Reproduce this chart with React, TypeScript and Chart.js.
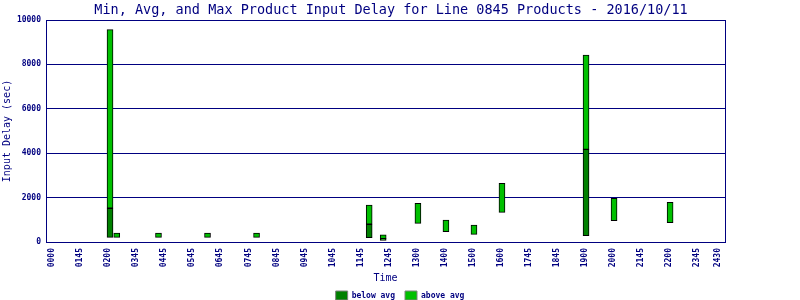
import React, { useEffect, useRef } from "react";
import { Chart, registerables } from "chart.js";

Chart.register(...registerables);

const chartTitle = "Min, Avg, and Max Product Input Delay for Line 0845 Products - 2016/10/11";
const xTickLabels = ["0000", "0145", "0200", "0345", "0445", "0545", "0645", "0745", "0845", "0945", "1045", "1145", "1245", "1300", "1400", "1500", "1600", "1745", "1845", "1900", "2000", "2145", "2200", "2345", "2430"];
const xTickValues = [0, 1, 2, 3, 4, 5, 6, 7, 8, 9, 10, 11, 12, 13, 14, 15, 16, 17, 18, 19, 20, 21, 22, 23, 23.77];
const yTickValues = [0, 2000, 4000, 6000, 8000, 10000];

const times = [2.06, 2.3, 3.79, 5.54, 7.29, 11.31, 11.81, 13.05, 14.05, 15.05, 16.05, 19.05, 20.05, 22.05];
const minDelay = [210, 210, 210, 210, 210, 200, 70, 840, 465, 345, 1335, 285, 960, 870];
const avgDelay = [1520, 210, 210, 210, 210, 800, 150, 840, 465, 345, 1335, 4170, 960, 870];
const maxDelay = [9570, 400, 400, 400, 400, 1665, 320, 1740, 990, 765, 2640, 8415, 1965, 1785];

const NAVY = "#000080";
const MONO = '"DejaVu Sans Mono", "Liberation Mono", monospace';
const tickFont = { family: MONO, size: 8, weight: "bold" as const };
const axisTitleFont = { family: MONO, size: 10 };

const titlePlugin = {
  id: "customTitle",
  afterDraw(chart: any) {
    const ctx = chart.ctx;
    ctx.save();
    ctx.font = `13.5px ${MONO}`;
    ctx.fillStyle = NAVY;
    ctx.textAlign = "center";
    ctx.textBaseline = "alphabetic";
    ctx.fillText(chartTitle, 391, 13.5);
    ctx.restore();
  },
};

export default function App() {
  const ref = useRef<HTMLCanvasElement>(null);
  useEffect(() => {
    document.body.style.margin = "0";
    const below = times.map((t, i) => ({ x: t, y: [minDelay[i], avgDelay[i]] }));
    const above = times.map((t, i) => ({ x: t, y: [avgDelay[i], maxDelay[i]] }));
    const chart = new Chart(ref.current as HTMLCanvasElement, {
      type: "bar",
      data: {
        datasets: [
          {
            label: "below avg",
            data: below as any,
            backgroundColor: "#008000",
            borderColor: "#000000",
            borderWidth: 1,
            borderSkipped: false,
            barThickness: 6,
            grouped: false,
            xAxisID: "x",
            yAxisID: "y",
          } as any,
          {
            label: "above avg",
            data: above as any,
            backgroundColor: "#00C000",
            borderColor: "#000000",
            borderWidth: 1,
            borderSkipped: false,
            barThickness: 6,
            grouped: false,
            xAxisID: "x",
            yAxisID: "y",
          } as any,
        ],
      },
      options: {
        responsive: false,
        animation: false,
        layout: { padding: { top: 20, bottom: -10, left: 0, right: 0 } },
        plugins: {
          title: { display: false },
          tooltip: { enabled: false },
          legend: {
            display: true,
            position: "bottom",
            labels: {
              boxWidth: 12,
              boxHeight: 9,
              padding: 10,
              color: NAVY,
              font: tickFont,
              generateLabels: (c: any) =>
                (Chart.defaults.plugins.legend.labels.generateLabels as any)(c).map((l: any) => ({
                  ...l,
                  strokeStyle: "#808080",
                  lineWidth: 1,
                })),
            },
          },
        },
        scales: {
          x: {
            type: "linear",
            position: "bottom",
            offset: false,
            min: -0.225,
            max: 24.01,
            afterBuildTicks: (s: any) => {
              s.ticks = xTickValues.map((v) => ({ value: v }));
            },
            afterFit: (s: any) => {
              s.height = 39;
            },
            ticks: {
              autoSkip: false,
              minRotation: 90,
              maxRotation: 90,
              padding: 6,
              color: NAVY,
              font: tickFont,
              callback: (_v: any, i: number) => xTickLabels[i],
            },
            grid: { display: false, drawTicks: false, offset: false },
            border: { display: true, color: NAVY, width: 1 },
            title: {
              display: true,
              text: "Time",
              color: NAVY,
              font: axisTitleFont,
              padding: { top: 0, bottom: -3 },
            },
          },
          y: {
            type: "linear",
            position: "left",
            min: 0,
            max: 10000,
            afterBuildTicks: (s: any) => {
              s.ticks = yTickValues.map((v) => ({ value: v }));
            },
            afterFit: (s: any) => {
              s.width = 46;
            },
            ticks: {
              color: NAVY,
              font: tickFont,
              padding: 5,
              callback: (v: any) => String(v),
            },
            grid: { color: NAVY, lineWidth: 1, drawTicks: false },
            border: { display: true, color: NAVY, width: 1 },
            title: {
              display: true,
              text: "Input Delay (sec)",
              color: NAVY,
              font: axisTitleFont,
              padding: { top: 1.5, bottom: 0 },
            },
          },
          y2: {
            type: "linear",
            position: "right",
            min: 0,
            max: 10000,
            afterFit: (s: any) => {
              s.width = 75;
            },
            ticks: { display: false },
            grid: { display: false, drawTicks: false },
            border: { display: true, color: NAVY, width: 1 },
          },
        },
      } as any,
      plugins: [titlePlugin],
    });
    return () => chart.destroy();
  }, []);
  return (
    <div style={{ width: 800, height: 300 }}>
      <canvas ref={ref} width={800} height={300} style={{ display: "block" }} />
    </div>
  );
}
